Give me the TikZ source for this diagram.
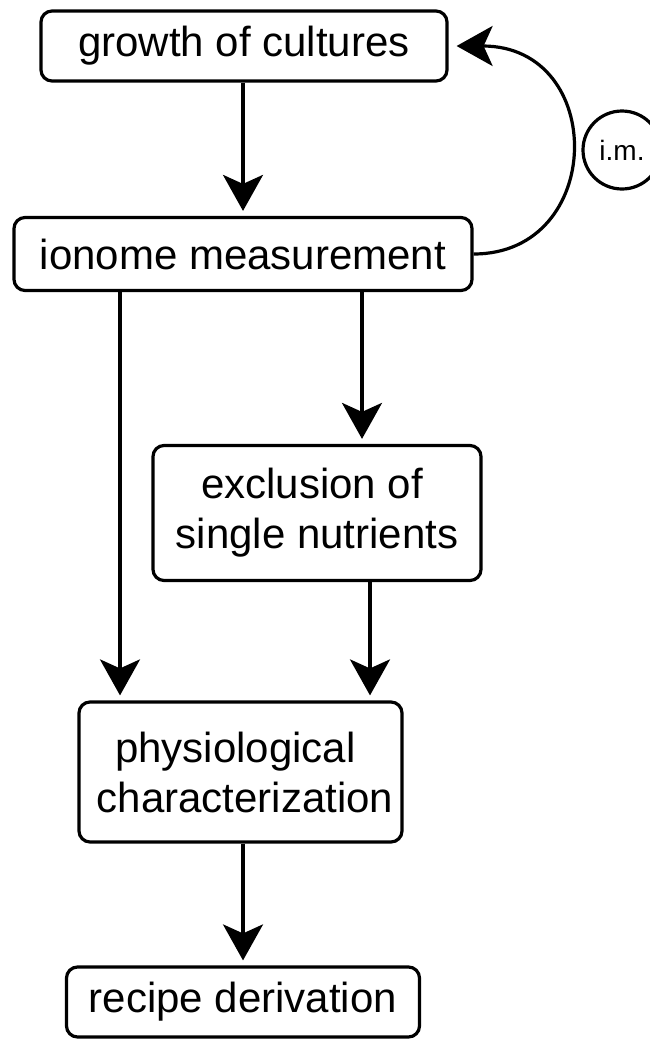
\documentclass[tikz,border=0pt]{standalone}
\usepackage{fontspec}
\setmainfont{Liberation Sans}
\usetikzlibrary{arrows.meta}
\begin{document}
\begin{tikzpicture}[x=1pt,y=-1pt,
  box/.style={draw, line width=3.2pt, rounded corners=11pt, align=center,
    inner sep=0pt, font=\fontsize{42}{50}\selectfont},
  flow/.style={line width=3.2pt, -{Stealth[length=36pt,width=40pt,inset=9pt]}, shorten >=5pt},
  tag/.style={draw, circle, line width=3.2pt, minimum size=78pt, inner sep=0pt,
    font=\fontsize{28}{32}\selectfont}]
\useasboundingbox (0,0) rectangle (649,1039);
\node[box, minimum width=406pt, minimum height=70pt] (growth) at (244,46) {growth of cultures};
\node[box, minimum width=458pt, minimum height=73pt] (ionome) at (243,254) {ionome measurement};
\node[box, minimum width=328pt, minimum height=135pt] (excl) at (317,513) {exclusion of\hspace*{10pt}\\single nutrients};
\node[box, minimum width=323pt, minimum height=140pt] (phys) at (240.5,772) {physiological\hspace*{10pt}\\\hspace*{9pt}characterization};
\node[box, minimum width=353pt, minimum height=70pt] (recipe) at (243,1002) {recipe derivation};
\node[tag] (im) at (622,150) {i.m.};
\coordinate (cl) at (120,0);
\coordinate (cm) at (362,0);
\coordinate (cr) at (370,0);
\coordinate (cb) at (243,0);
\draw[flow] (growth.south -| cb) -- (ionome.north -| cb);
\draw[flow] (ionome.south -| cl) -- (phys.north -| cl);
\draw[flow] (ionome.south -| cm) -- (excl.north -| cm);
\draw[flow] (excl.south -| cr) -- (phys.north -| cr);
\draw[flow] (phys.south -| cb) -- (recipe.north -| cb);
\draw[flow, shorten >=8pt] (ionome.east) .. controls +(132,0) and +(159,0) .. (growth.east);
\end{tikzpicture}
\end{document}
